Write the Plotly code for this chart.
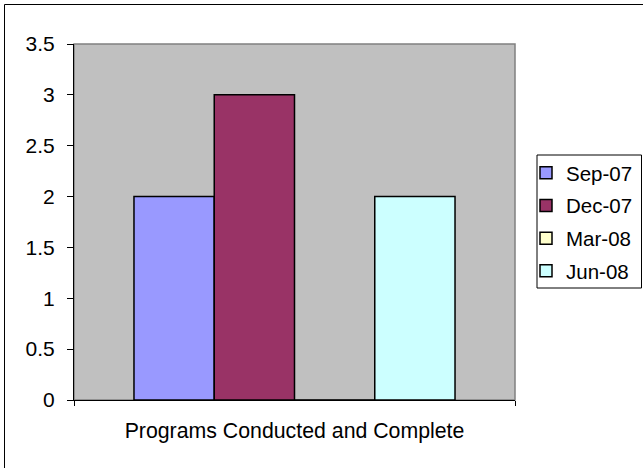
import plotly.graph_objects as go

category = ["Programs Conducted and Complete"]
series_names = ["Sep-07", "Dec-07", "Mar-08", "Jun-08"]
series_values = [[2], [3], [0], [2]]
series_colors = ["#9999FF", "#993366", "#FFFFCC", "#CCFFFF"]

W, H = 643, 468
L, R, T, B = 74, 128, 44, 68
pw, ph = W - L - R, H - T - B

def px_x(p):
    return (p - L) / pw

def px_y(p):
    return (H - B - p) / ph

FONT = "Liberation Sans, Arial, sans-serif"

fig = go.Figure()
for i, (name, vals, col) in enumerate(zip(series_names, series_values, series_colors)):
    fig.add_trace(go.Bar(
        x=category, y=vals, name=name,
        marker=dict(color=col, line=dict(color="black", width=1.5)),
        legendgroup=name,
    ))

fig.update_layout(
    width=W, height=H,
    margin=dict(l=L, r=R, t=T, b=B, autoexpand=False),
    paper_bgcolor="white",
    plot_bgcolor="#C0C0C0",
    barmode="group",
    bargap=0.272,
    bargroupgap=0,
    font=dict(family=FONT, size=21, color="black"),
    showlegend=True,
    legend=dict(
        x=px_x(526), y=px_y(153), xanchor="left", yanchor="top",
        borderwidth=0, bgcolor="rgba(0,0,0,0)",
        font=dict(family=FONT, size=20.5, color="black"),
        tracegroupgap=3,
        traceorder="grouped",
    ),
    xaxis=dict(
        showline=True, linecolor="black", linewidth=1,
        ticks="outside", ticklen=5, tickcolor="black", tickwidth=1,
        tickson="boundaries", showgrid=False, zeroline=False,
        ticklabelstandoff=11, tickfont=dict(size=21.3),
    ),
    yaxis=dict(
        range=[0, 3.5], dtick=0.5,
        showline=True, linecolor="black", linewidth=1,
        ticks="outside", ticklen=6, tickcolor="black", tickwidth=1,
        showgrid=False, zeroline=False,
        ticklabelstandoff=8,
    ),
    shapes=[
        dict(type="rect", xref="x domain", yref="y domain", x0=0, x1=1, y0=0, y1=1,
             line=dict(color="#808080", width=1.5), layer="below"),
        dict(type="rect", xref="paper", yref="paper",
             x0=px_x(537), x1=px_x(641.5), y0=px_y(155), y1=px_y(288),
             line=dict(color="black", width=1), fillcolor="white", layer="below"),
        dict(type="line", xref="paper", yref="paper",
             x0=px_x(4.5), x1=px_x(700), y0=px_y(4.5), y1=px_y(4.5),
             line=dict(color="black", width=1)),
        dict(type="line", xref="paper", yref="paper",
             x0=px_x(4.5), x1=px_x(4.5), y0=px_y(4.5), y1=px_y(520),
             line=dict(color="black", width=1)),
    ],
)

fig.write_html("out.html", config={"displayModeBar": False},
               post_script="document.body.style.margin='0';document.body.style.overflow='hidden';")
